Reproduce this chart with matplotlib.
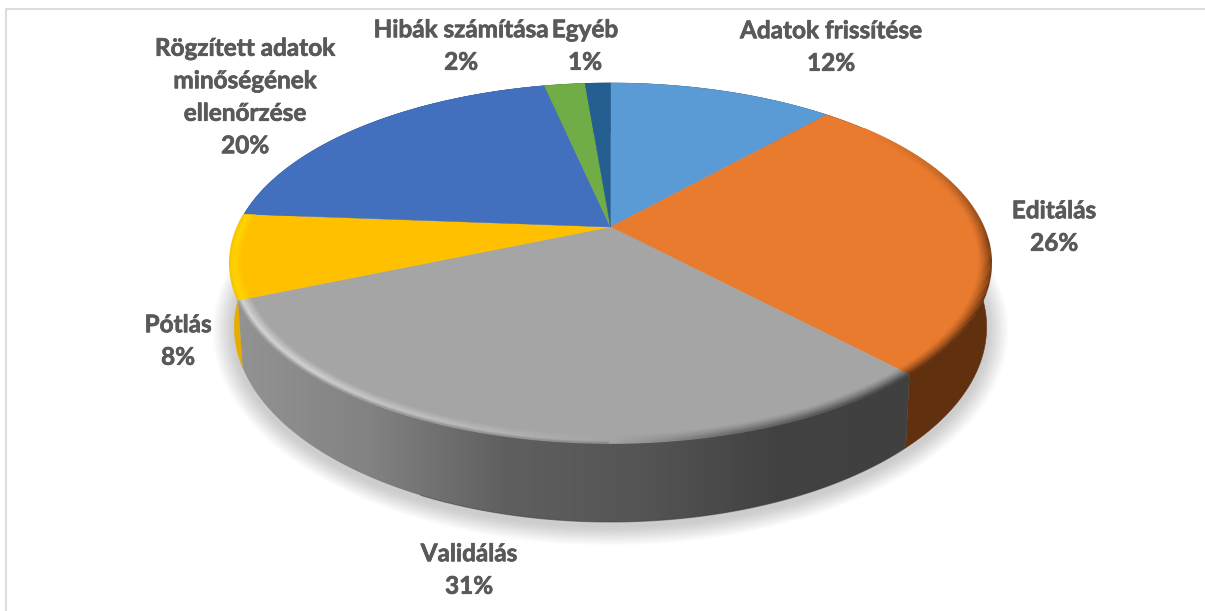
import numpy as np
import matplotlib
matplotlib.use("Agg")
import matplotlib.pyplot as plt
import matplotlib.patheffects as pe
from matplotlib.patches import Polygon
from matplotlib.collections import LineCollection
from matplotlib.colors import to_rgb, LinearSegmentedColormap

# ---- data -------------------------------------------------------------
categories = ["Adatok frissítése", "Editálás", "Validálás", "Pótlás",
              "Rögzített adatok\nminőségének\nellenőrzése", "Hibák számítása", "Egyéb"]
shares = [11.6, 26.4, 30.6, 7.6, 20.4, 2.1, 1.3]
face_colors = ["#5b9bd5", "#e97b2f", "#a5a5a5", "#ffc000", "#4270be", "#70ad47", "#255e91"]
side_colors = ["#33587a", "#61300f", "#454545", "#e6ac00", "#2a4a80", "#44682a", "#163a5a"]
label_xy = [(831, 47), (1054, 227), (469, 570), (178, 341), (245, 97), (461, 46), (585, 46)]

# ---- projection of the tilted disc --------------------------------------
CX, K = 610.5, 0.2
TOP = dict(R=373.0, A=172.8, y0=227.0)
LOW = dict(R=368.5, A=187.2, y0=288.0)


def project(theta_deg, disc, r=1.0):
    t = np.radians(np.asarray(theta_deg, dtype=float))
    u, v = r * np.sin(t), -r * np.cos(t)
    d = 1 - K * v
    return np.column_stack([CX + disc["R"] * u / d, disc["y0"] + disc["A"] * v / d])


def mix(a, b, w):
    a, b = np.array(to_rgb(a)), np.array(to_rgb(b))
    return a * (1 - w) + b * w


fig = plt.figure(figsize=(12.05, 6.11), dpi=100, facecolor="white")
ax = fig.add_axes([0, 0, 1, 1])
ax.set_axis_off()
plt.rcParams["font.family"] = ["Lato", "DejaVu Sans"]

# frame
ax.plot([6, 6, 1210], [620, 8.5, 8.5], color="#dcdcdc", lw=1.5, zorder=1)

# soft shadow under the disc
th_all = np.linspace(0, 360, 361)
for i in range(18):
    s = 1 + (18 - i) * 0.0032
    p = project(th_all, LOW)
    p = np.column_stack([CX + (p[:, 0] - CX) * s, 331 + (p[:, 1] - 327) * (1 + (18 - i) * 0.0055)])
    ax.add_patch(Polygon(p, closed=True, fc="#808080", ec="none", alpha=0.022, zorder=2))

edges = 3.6 * np.concatenate([[0], np.cumsum(shares)])

# sides
for i in range(len(shares)):
    th = np.linspace(edges[i], edges[i + 1], 200)
    verts = np.vstack([project(th, TOP), project(th[::-1], LOW)])
    is_gradient = categories[i] == "Validálás"
    poly = Polygon(verts, closed=True, fc=side_colors[i], ec="none" if is_gradient else side_colors[i],
                   lw=0.4, zorder=3)
    if is_gradient:
        cmap = LinearSegmentedColormap.from_list(
            "side", ["#939393", "#828282", "#5f5f5f", "#555555", "#424242", "#404040"])
        grad = np.linspace(0, 1, 256).reshape(1, -1)
        im = ax.imshow(grad, cmap=cmap, extent=(235, 910, 530, 290), aspect="auto",
                       zorder=3.5, interpolation="bilinear")
        im.set_clip_path(Polygon(verts, closed=True, transform=ax.transData))
        low = project(th, LOW)
        keep = low[:, 0] > 420
        ax.plot(low[keep, 0], low[keep, 1], color="#3a3a3a", lw=0.8, alpha=0.5, zorder=3.6)
    else:
        ax.add_patch(poly)

# top faces
for i in range(len(shares)):
    th = np.linspace(edges[i], edges[i + 1], 200)
    verts = np.vstack([[[CX, TOP["y0"]]], project(th, TOP)])
    ax.add_patch(Polygon(verts, closed=True, fc=face_colors[i], ec=face_colors[i], lw=0.3, zorder=4))

# bevel shading around the rim: negative = dark, positive = highlight
RIM_T = [50, 70, 95, 120, 140, 165, 180, 200, 225, 250, 280]
RIM_L = [0, -.25, -.8, -1, -1, -.6, 0, .45, .9, 1, 1]


def rim_colour(face, side, theta, f):
    light = np.interp(theta, RIM_T, RIM_L)
    if light > 0:
        hi = np.array(to_rgb("#ffdc00")) if face == "#ffc000" else mix(face, "#ffffff", 0.55)
        peak = np.interp(f, [0, .7, 1], [0, 1, .55])
        out = mix(face, hi, light * peak)
        w = 0.25 * max(0, f - .8) / .2
        return np.clip(out * (1 - w) + mix(face, side, 1) * w, 0, 1)
    return mix(face, side, -light * f ** 1.3)


for i in [1, 2, 3]:
    th = np.linspace(max(edges[i], 50), edges[i + 1], 260)
    for r, f in zip(np.linspace(0.968, 1.0, 12), np.linspace(0.04, 1.0, 12)):
        pts = project(th, TOP, r)
        segs = np.stack([pts[:-1], pts[1:]], axis=1)
        cols = [rim_colour(face_colors[i], side_colors[i], t, f) for t in th[:-1]]
        ax.add_collection(LineCollection(segs, colors=cols, linewidths=1.2, zorder=4.5,
                                         capstyle="butt"))

# labels
for name, share, (x, y) in zip(categories, shares, label_xy):
    ax.text(x, y, f"{name}\n{round(share)}%", ha="center", va="center", fontsize=17.5,
            fontweight="bold", color="#595959", linespacing=1.5, zorder=6,
            path_effects=[pe.withStroke(linewidth=0.5, foreground="#595959")])

ax.set_xlim(0, 1205)
ax.set_ylim(611, 0)
fig.savefig("out.png", dpi=100, facecolor="white")
